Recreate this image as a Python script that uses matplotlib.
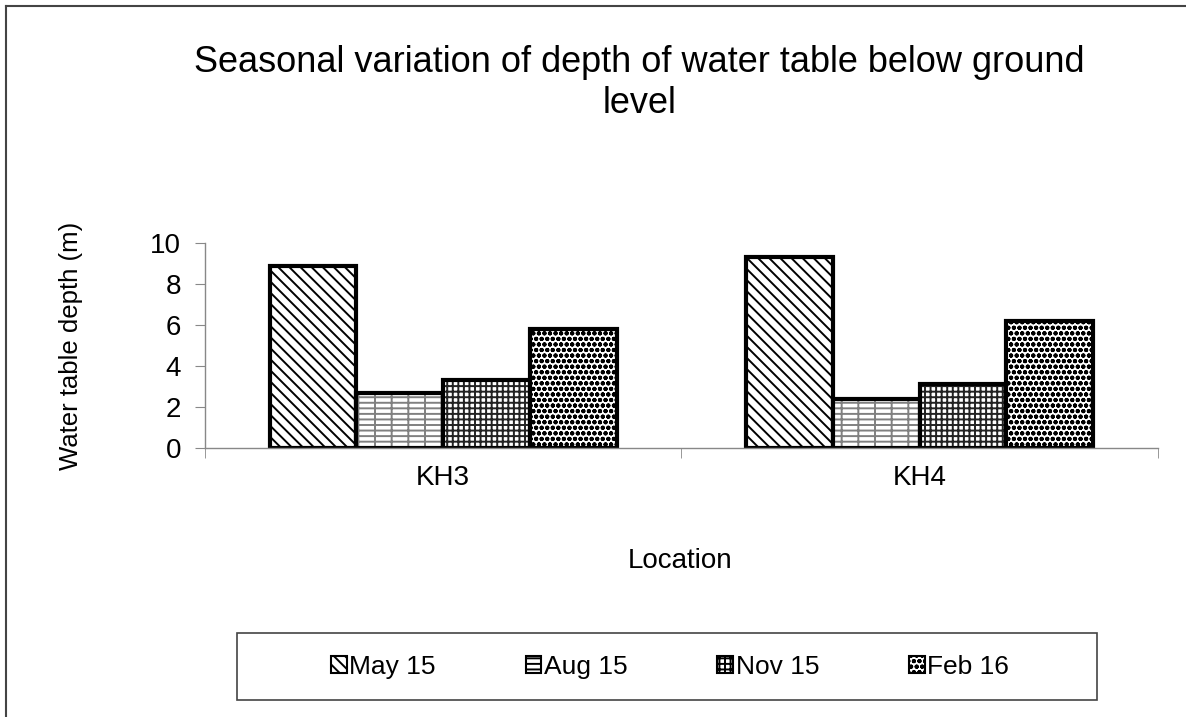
import matplotlib.pyplot as plt
import numpy as np
from matplotlib.lines import Line2D
from matplotlib.patches import Rectangle

plt.rcParams['font.family'] = ['Liberation Sans', 'DejaVu Sans']
plt.rcParams['hatch.linewidth'] = 1.4

# data
locations = ['KH3', 'KH4']
seasons = ['May 15', 'Aug 15', 'Nov 15', 'Feb 16']
may15 = [8.9, 9.3]
aug15 = [2.7, 2.4]
nov15 = [3.3, 3.1]
feb16 = [5.8, 6.2]
values = [may15, aug15, nov15, feb16]
bs = chr(92)
hatches = [bs * 3, '---|', '+++', 'ooo']
hatch_cols = ['black', '#808080', '#222222', 'black']

fig = plt.figure(figsize=(11.86, 7.17), dpi=100)
ax = fig.add_axes([0.1728, 0.3752, 0.8036, 0.2858])

x = np.arange(len(locations))
w = 0.182
for i, (vals, h, hc) in enumerate(zip(values, hatches, hatch_cols)):
    pos = x + (i - 1.5) * w
    ax.bar(pos, vals, w, color='white', edgecolor=hc, hatch=h, linewidth=0, label=seasons[i])
    ax.bar(pos, vals, w, fill=False, edgecolor='black', linewidth=3)

ax.set_xlim(-0.5, 1.5)
ax.set_ylim(0, 10)
ax.set_yticks(np.arange(0, 11, 2))
ax.set_xticks(x)
ax.set_xticklabels(locations)
ax.set_xticks([-0.5, 0.5, 1.5], minor=True)
ax.tick_params(axis='x', which='major', length=0, labelsize=20, pad=12)
ax.tick_params(axis='x', which='minor', length=7, color='#888888', direction='out')
ax.tick_params(axis='y', labelsize=20, length=7, color='#888888', pad=10)
for s in ['top', 'right']:
    ax.spines[s].set_visible(False)
for s in ['left', 'bottom']:
    ax.spines[s].set_color('#888888')
    ax.spines[s].set_linewidth(1)

ax.set_ylabel('Water table depth (m)', fontsize=18.5)
ax.yaxis.set_label_coords(-0.128, 0.5)
fig.text(0.573, 0.218, 'Location', fontsize=20, ha='center', va='center')
fig.text(0.539, 0.884, 'Seasonal variation of depth of water table below ground\nlevel',
         fontsize=26, ha='center', va='center', linespacing=1.22)

# legend box
fig.add_artist(Rectangle((237 / 1186, 1 - 700 / 717), 860 / 1186, 67 / 717, fill=False,
                         edgecolor='#444444', lw=1.2, transform=fig.transFigure))
handles, labels = ax.get_legend_handles_labels()
leg = fig.legend(handles, labels, loc='center', ncol=4,
                 bbox_to_anchor=(0.565, 1 - 667 / 717), fontsize=19,
                 handlelength=0.6, handleheight=0.6, handletextpad=0.1,
                 columnspacing=3.4, frameon=False)
for p in leg.get_patches():
    p.set_linewidth(1.5)
    p.set_edgecolor('black')

# chart border (left and top visible)
fig.add_artist(Line2D([0.005, 0.005], [0, 0.992], color='#444444', lw=1.5, transform=fig.transFigure))
fig.add_artist(Line2D([0.005, 1.0], [0.992, 0.992], color='#444444', lw=1.5, transform=fig.transFigure))

fig.savefig('out.png', dpi=100)
